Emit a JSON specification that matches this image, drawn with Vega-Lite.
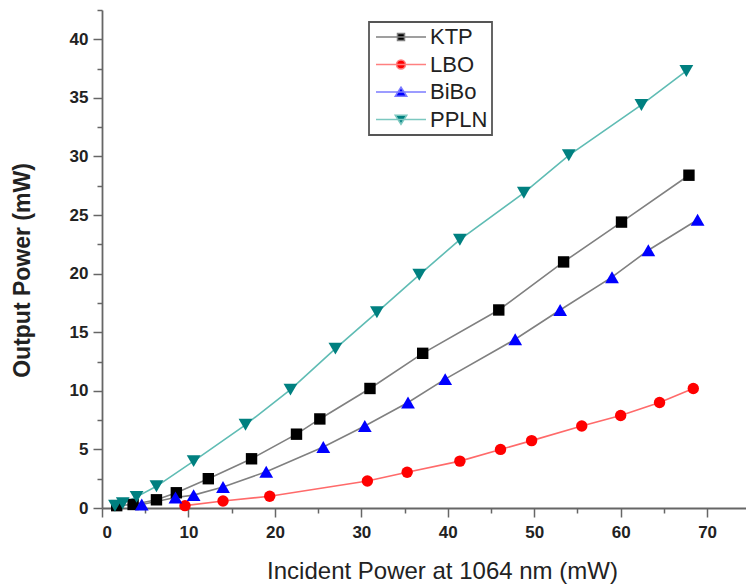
{
  "$schema": "https://vega.github.io/schema/vega-lite/v6.json",
  "autosize": "none",
  "width": 644,
  "height": 498,
  "padding": {"left": 102, "top": 10, "right": 0, "bottom": 78},
  "background": "white",
  "config": {
    "view": {"stroke": null},
    "font": "Liberation Sans",
    "legend": {"strokeWidth": 1.8},
    "axis": {
      "domainColor": "#666666",
      "domainWidth": 1.8,
      "tickColor": "#666666",
      "tickWidth": 1.5,
      "labelColor": "#222222",
      "titleColor": "#222222",
      "grid": false
    }
  },
  "data": {
    "values": [
      {"crystal": "KTP", "incident": 1.7, "output": 0.2},
      {"crystal": "KTP", "incident": 3.6, "output": 0.3},
      {"crystal": "KTP", "incident": 6.3, "output": 0.7},
      {"crystal": "KTP", "incident": 8.6, "output": 1.3},
      {"crystal": "KTP", "incident": 12.3, "output": 2.5},
      {"crystal": "KTP", "incident": 17.3, "output": 4.2},
      {"crystal": "KTP", "incident": 22.5, "output": 6.3},
      {"crystal": "KTP", "incident": 25.2, "output": 7.6},
      {"crystal": "KTP", "incident": 31.0, "output": 10.2},
      {"crystal": "KTP", "incident": 37.1, "output": 13.2},
      {"crystal": "KTP", "incident": 45.9, "output": 16.9},
      {"crystal": "KTP", "incident": 53.4, "output": 21.0},
      {"crystal": "KTP", "incident": 60.1, "output": 24.4},
      {"crystal": "KTP", "incident": 67.9, "output": 28.4},
      {"crystal": "LBO", "incident": 9.6, "output": 0.2},
      {"crystal": "LBO", "incident": 14.0, "output": 0.6},
      {"crystal": "LBO", "incident": 19.4, "output": 1.0},
      {"crystal": "LBO", "incident": 30.7, "output": 2.3},
      {"crystal": "LBO", "incident": 35.3, "output": 3.05},
      {"crystal": "LBO", "incident": 41.4, "output": 4.0},
      {"crystal": "LBO", "incident": 46.1, "output": 5.0},
      {"crystal": "LBO", "incident": 49.7, "output": 5.75},
      {"crystal": "LBO", "incident": 55.5, "output": 7.0},
      {"crystal": "LBO", "incident": 60.0, "output": 7.9},
      {"crystal": "LBO", "incident": 64.5, "output": 9.0},
      {"crystal": "LBO", "incident": 68.4, "output": 10.2},
      {"crystal": "BiBo", "incident": 4.6, "output": 0.3},
      {"crystal": "BiBo", "incident": 8.5, "output": 0.9},
      {"crystal": "BiBo", "incident": 10.6, "output": 1.1},
      {"crystal": "BiBo", "incident": 14.0, "output": 1.8},
      {"crystal": "BiBo", "incident": 19.0, "output": 3.1},
      {"crystal": "BiBo", "incident": 25.6, "output": 5.2},
      {"crystal": "BiBo", "incident": 30.4, "output": 7.0},
      {"crystal": "BiBo", "incident": 35.4, "output": 9.0},
      {"crystal": "BiBo", "incident": 39.7, "output": 11.0},
      {"crystal": "BiBo", "incident": 47.8, "output": 14.4},
      {"crystal": "BiBo", "incident": 53.0, "output": 16.9},
      {"crystal": "BiBo", "incident": 59.0, "output": 19.7},
      {"crystal": "BiBo", "incident": 63.2, "output": 22.0},
      {"crystal": "BiBo", "incident": 68.9, "output": 24.6},
      {"crystal": "PPLN", "incident": 1.5, "output": 0.2},
      {"crystal": "PPLN", "incident": 2.4, "output": 0.4},
      {"crystal": "PPLN", "incident": 4.0, "output": 0.95},
      {"crystal": "PPLN", "incident": 6.3, "output": 1.85},
      {"crystal": "PPLN", "incident": 10.6, "output": 4.0},
      {"crystal": "PPLN", "incident": 16.6, "output": 7.1},
      {"crystal": "PPLN", "incident": 21.8, "output": 10.1},
      {"crystal": "PPLN", "incident": 27.0, "output": 13.6},
      {"crystal": "PPLN", "incident": 31.8, "output": 16.7},
      {"crystal": "PPLN", "incident": 36.7, "output": 19.9},
      {"crystal": "PPLN", "incident": 41.4, "output": 22.9},
      {"crystal": "PPLN", "incident": 48.8, "output": 26.9},
      {"crystal": "PPLN", "incident": 54.0, "output": 30.1},
      {"crystal": "PPLN", "incident": 62.4, "output": 34.4},
      {"crystal": "PPLN", "incident": 67.6, "output": 37.3}
    ]
  },
  "resolve": {
    "axis": {"x": "independent", "y": "independent"},
    "scale": {"fill": "independent", "shape": "independent", "stroke": "independent"}
  },
  "layer": [
    {
      "mark": {"type": "line", "strokeWidth": 1.6},
      "encoding": {
        "x": {
          "field": "incident", "type": "quantitative",
          "scale": {"domain": [0, 74.5], "nice": false, "zero": false},
          "axis": {
            "orient": "bottom",
            "values": [0, 10, 20, 30, 40, 50, 60, 70],
            "tickSize": 9,
            "labelPadding": 7,
            "labelFontSize": 17,
            "labelFontWeight": "bold",
            "title": "Incident Power at 1064 nm (mW)",
            "titleFontSize": 24,
            "titleFontWeight": "normal",
            "titleX": 340,
            "titleY": 63,
            "titleBaseline": "middle"
          }
        },
        "y": {
          "field": "output", "type": "quantitative",
          "scale": {"domain": [0, 42.5], "nice": false, "zero": false},
          "axis": {
            "orient": "left",
            "values": [0, 5, 10, 15, 20, 25, 30, 35, 40],
            "tickSize": 9,
            "labelPadding": 5,
            "labelFontSize": 17,
            "labelFontWeight": "bold",
            "title": "Output Power (mW)",
            "titleFontSize": 23,
            "titleFontWeight": "bold",
            "titleX": -80,
            "titleY": 260,
            "titleBaseline": "middle"
          }
        },
        "detail": {"field": "crystal"},
        "stroke": {
          "condition": [
            {"test": "datum.crystal === 'LBO'", "value": "#ff6a6a"},
            {"test": "datum.crystal === 'PPLN'", "value": "#5fbcb4"}
          ],
          "value": "#808080"
        }
      }
    },
    {
      "mark": {"type": "point", "filled": true, "opacity": 1},
      "encoding": {
        "x": {
          "field": "incident", "type": "quantitative",
          "axis": {
            "orient": "bottom",
            "values": [5, 15, 25, 35, 45, 55, 65],
            "tickSize": 5,
            "labels": false,
            "domain": false,
            "title": null
          }
        },
        "y": {
          "field": "output", "type": "quantitative",
          "axis": {
            "orient": "left",
            "values": [2.5, 7.5, 12.5, 17.5, 22.5, 27.5, 32.5, 37.5, 42.5],
            "tickSize": 5,
            "labels": false,
            "domain": false,
            "title": null
          }
        },
        "size": {
          "condition": [
            {"test": "datum.crystal === 'BiBo' || datum.crystal === 'PPLN'", "value": 190}
          ],
          "value": 130
        },
        "shape": {
          "field": "crystal", "type": "nominal",
          "scale": {
            "domain": ["PPLN", "BiBo", "LBO", "KTP"],
            "range": ["triangle-down", "triangle-up", "circle", "square"]
          },
          "legend": null
        },
        "fill": {
          "field": "crystal", "type": "nominal",
          "scale": {
            "domain": ["PPLN", "BiBo", "LBO", "KTP"],
            "range": ["#008080", "#0000ff", "#ff0000", "#000000"]
          },
          "legend": null
        }
      }
    },
    {
      "transform": [{"filter": "datum.output < 0"}],
      "mark": {"type": "point", "filled": true, "opacity": 1, "size": 100, "strokeWidth": 1.5},
      "encoding": {
        "x": {"field": "incident", "type": "quantitative", "axis": null},
        "y": {"field": "output", "type": "quantitative", "axis": null},
        "shape": {
          "field": "crystal", "type": "nominal",
          "scale": {
            "domain": ["KTP", "LBO", "BiBo", "PPLN"],
            "range": [
              "M-5,0H5M-0.7,-0.7H0.7V0.7H-0.7Z",
              "M-5,0H5M-0.9,0A0.9,0.9,0,1,1,0.9,0A0.9,0.9,0,1,1,-0.9,0Z",
              "M-5,0H5M0,-0.95L1.15,0.85H-1.15Z",
              "M-5,0H5M0,0.95L1.15,-0.85H-1.15Z"
            ]
          }
        },
        "stroke": {
          "field": "crystal", "type": "nominal",
          "scale": {
            "domain": ["KTP", "LBO", "BiBo", "PPLN"],
            "range": ["#808080", "#ff8080", "#7c7cff", "#7cc8c0"]
          }
        },
        "fill": {
          "field": "crystal", "type": "nominal",
          "scale": {
            "domain": ["KTP", "LBO", "BiBo", "PPLN"],
            "range": ["#000000", "#ff0000", "#0000ff", "#008080"]
          },
          "legend": {
            "title": null,
            "orient": "none",
            "legendX": 267,
            "legendY": 12,
            "padding": 4,
            "strokeColor": "#555555",
            "labelFontSize": 22,
            "labelColor": "#222222",
            "symbolSize": 100,
            "symbolOffset": 17,
            "symbolOpacity": 1,
            "symbolStrokeWidth": 1.5,
            "labelOffset": 18,
            "rowPadding": 5.5
          }
        }
      }
    }
  ]
}
